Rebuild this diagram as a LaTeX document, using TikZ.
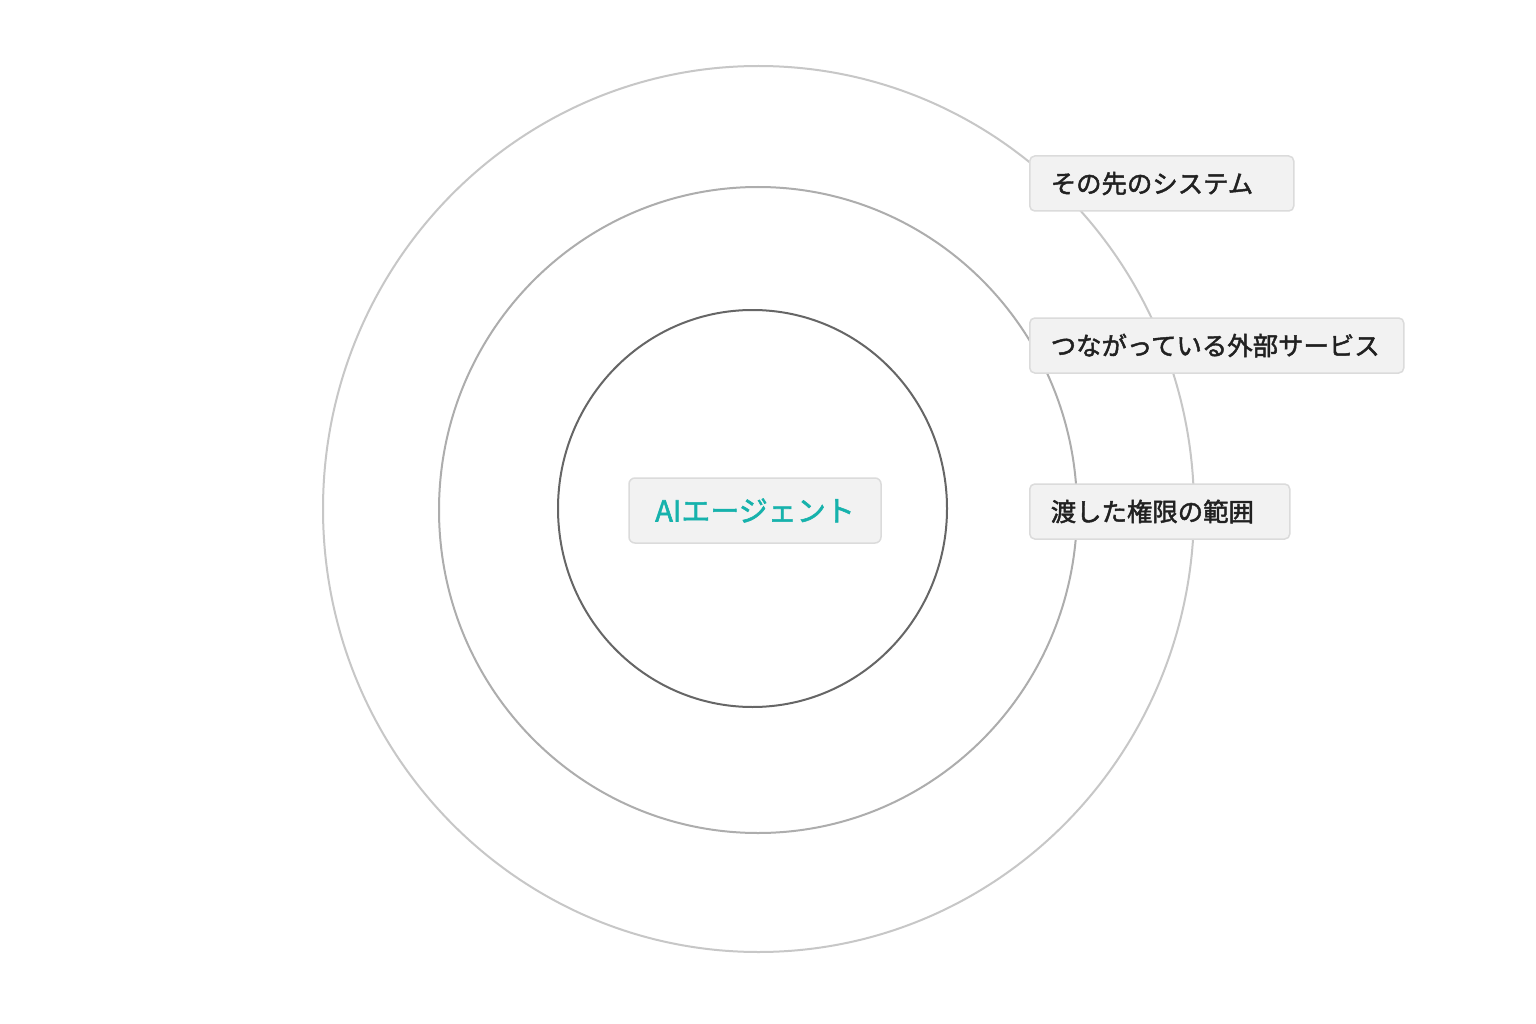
\documentclass[tikz,border=0pt]{standalone}
\usepackage{fontspec}
\setmainfont{Noto Sans CJK JP}
\newfontfamily\jpmed[FakeBold=1.8]{Noto Sans CJK JP}
\begin{document}
\begin{tikzpicture}[x=1pt,y=-1pt,
  ring/.style={line width=2pt},
  lbl/.style={draw=black!14,fill=black!5,line width=1.5pt,rounded corners=5pt,anchor=west,minimum height=55pt,inner xsep=21pt,align=left,font=\jpmed\fontsize{25.4}{30}\selectfont,text=black!87},
  agent/.style={draw=black!14,fill=black!5,line width=1.5pt,rounded corners=6pt,minimum height=65pt,minimum width=252pt,font=\jpmed\fontsize{29}{36}\selectfont,text={rgb,255:red,22;green,178;blue,172}}]
\useasboundingbox[fill=white] (0,0) rectangle (1536,1024);
\draw[ring,draw=black!22] (758.5,509) ellipse [x radius=435.5,y radius=443];
\draw[ring,draw=black!32] (758,510) ellipse [x radius=319,y radius=323];
\draw[ring,draw=black!60] (752.5,508.5) ellipse [x radius=194.5,y radius=198.5];
\node[agent] (a) at (755,510.5) {AIエージェント};
\node[lbl,text width=222pt] (l1) at (1029,183.5) {その先のシステム};
\node[lbl,text width=332pt] (l2) at (1029,345.5) {つながっている外部サービス};
\node[lbl,text width=218pt] (l3) at (1029,511.5) {渡した権限の範囲};
\end{tikzpicture}
\end{document}
